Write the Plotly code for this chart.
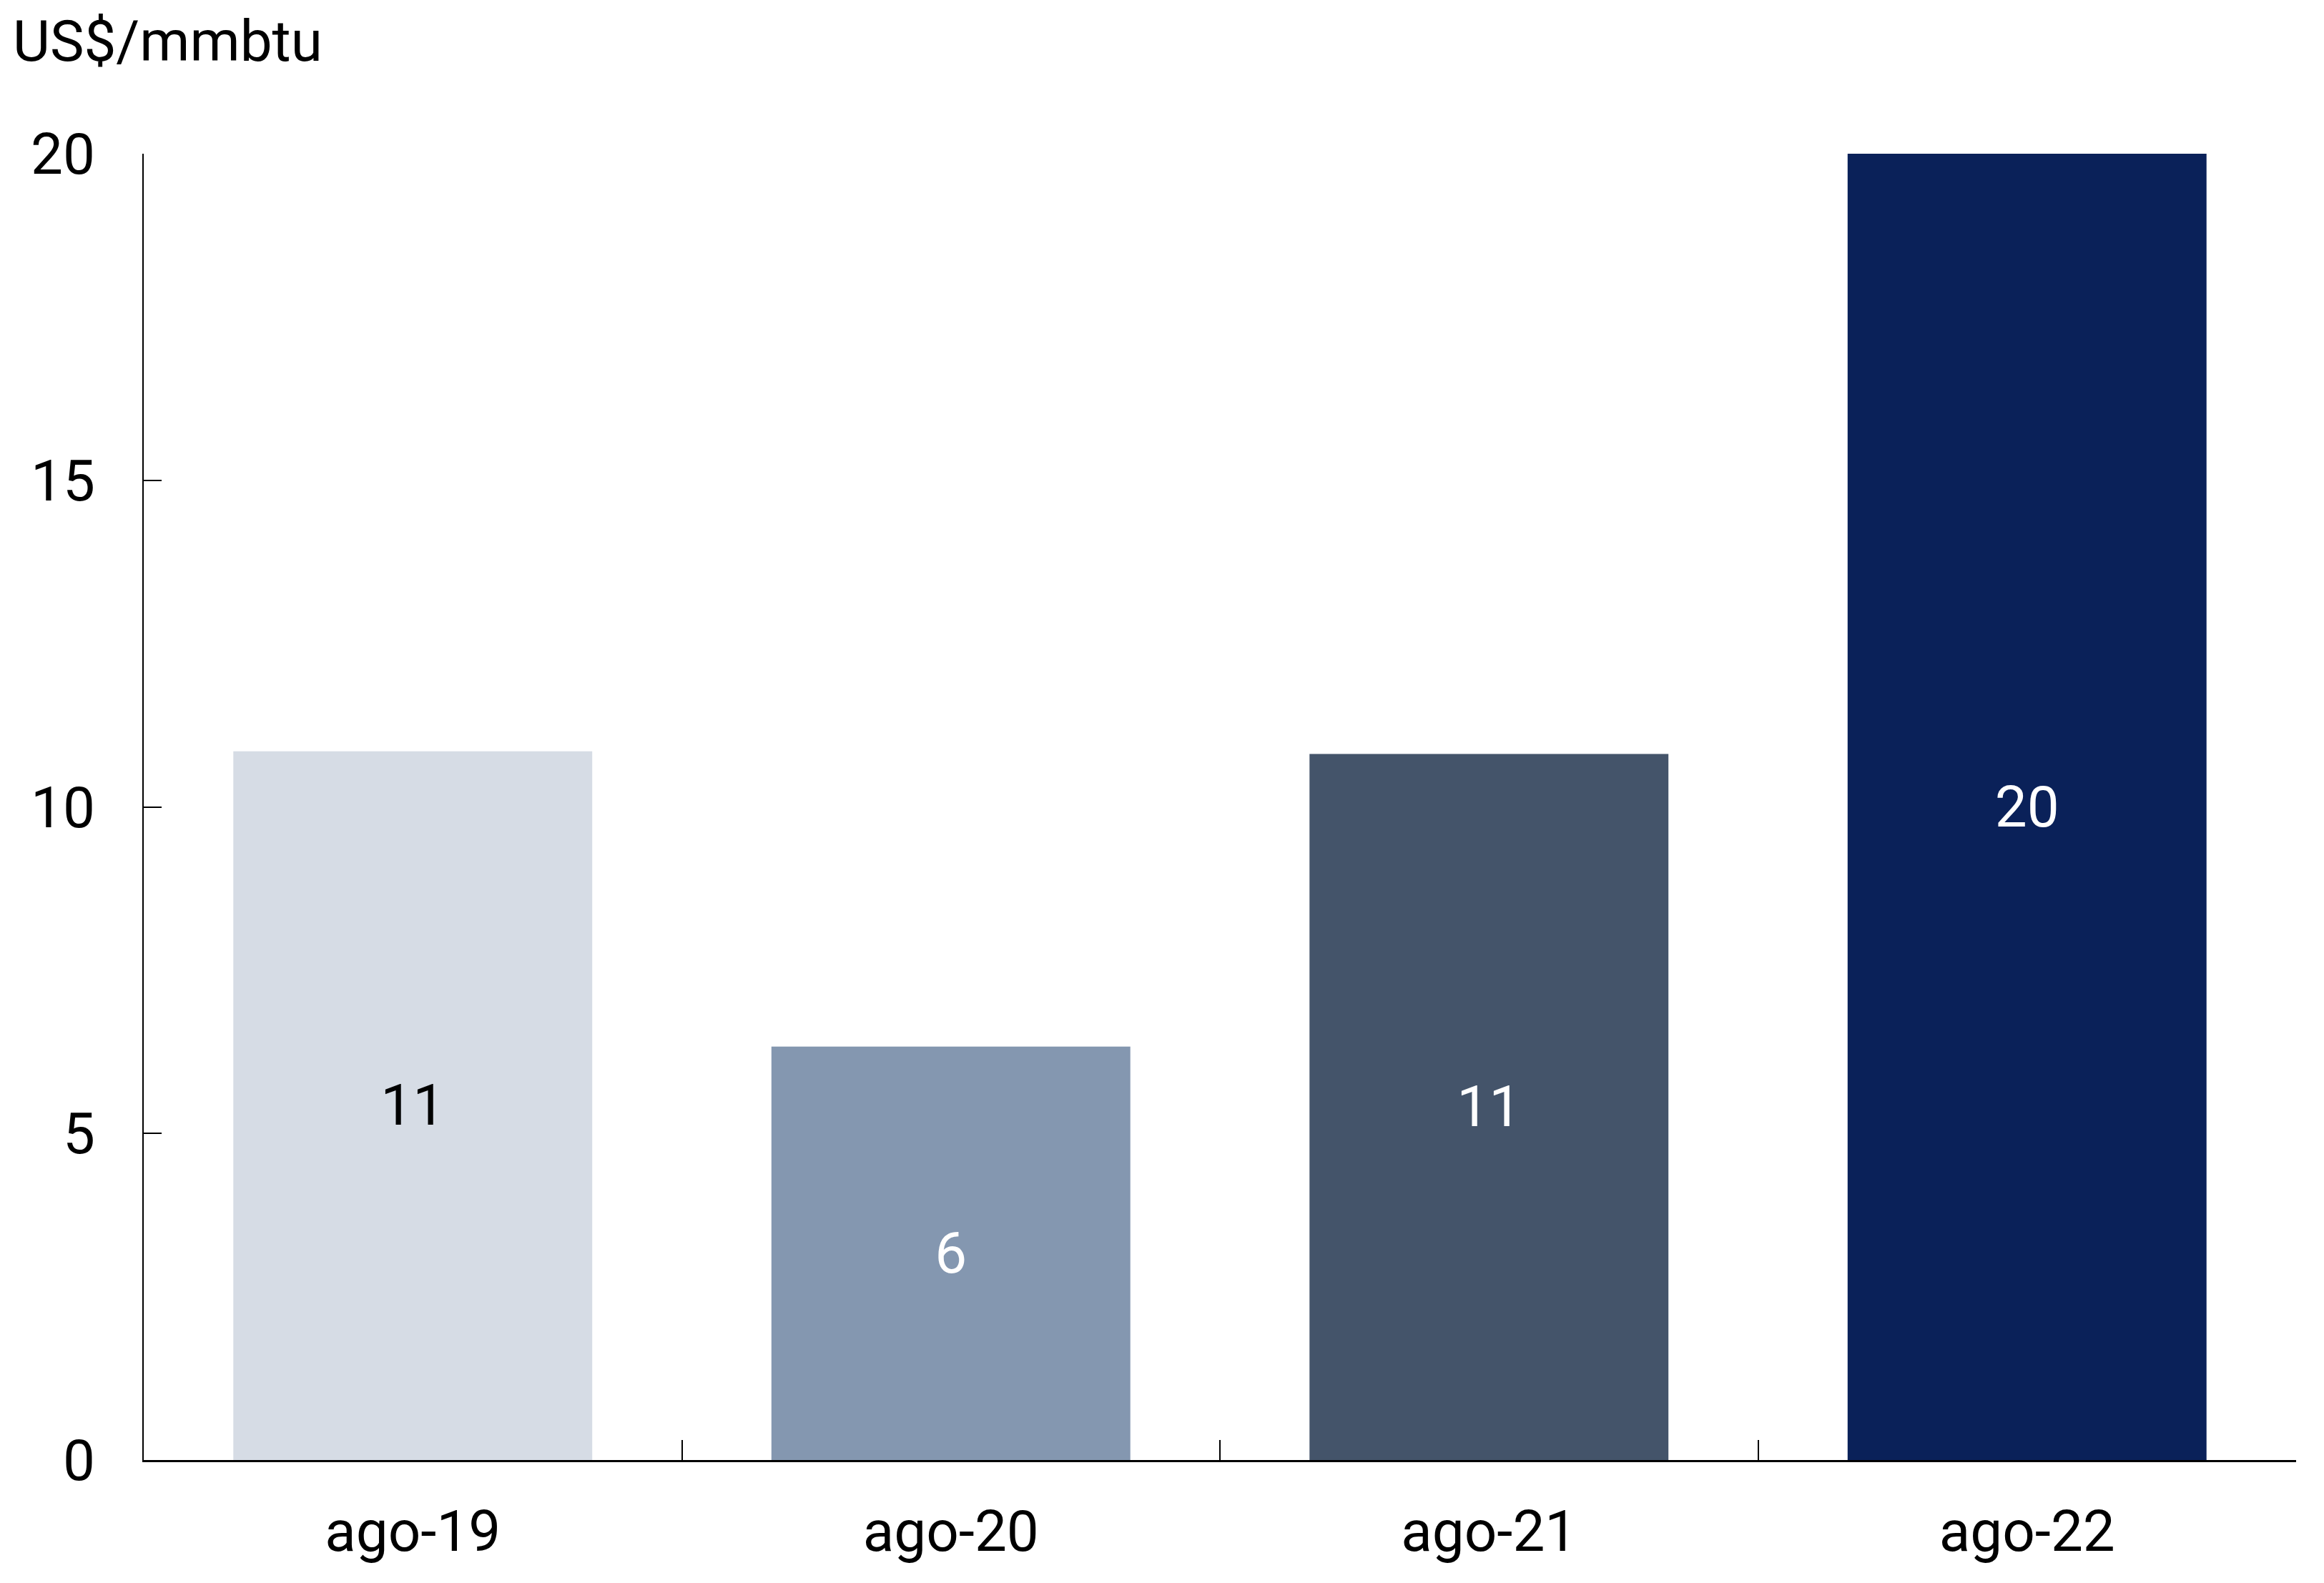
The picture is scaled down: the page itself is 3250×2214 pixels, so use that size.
import plotly.graph_objects as go

categories = ["ago-19", "ago-20", "ago-21", "ago-22"]
values = [10.85, 6.33, 10.81, 20.0]
bar_colors = ["#D6DCE5", "#8497B0", "#44546A", "#0A2159"]
label_colors = ["#000000", "#FFFFFF", "#FFFFFF", "#FFFFFF"]
y_ticks = [0, 5, 10, 15, 20]
unit_label = "US$/mmbtu"

W, H = 3250, 2214
L, R, T, B = 193, 47, 207, 180
FONT = "Roboto"
FS = 80

fig = go.Figure(go.Bar(
    x=categories,
    y=values,
    marker=dict(color=bar_colors, line=dict(width=0)),
    width=0.667,
    text=[f"{v:.0f}" for v in values],
    textposition="inside",
    insidetextanchor="middle",
    textangle=0,
    textfont=dict(family=FONT, size=FS, color=label_colors),
    cliponaxis=False,
))

fig.update_layout(
    width=W, height=H,
    margin=dict(l=L, r=R, t=T, b=B, pad=0),
    paper_bgcolor="white",
    plot_bgcolor="white",
    showlegend=False,
    font=dict(family=FONT, size=FS, color="#000000"),
    uniformtext=dict(mode=False),
    bargap=0.333,
)

fig.update_xaxes(
    showline=True, linecolor="#000000", linewidth=3,
    ticks="inside", ticklen=28, tickwidth=2, tickcolor="#000000",
    tickson="boundaries",
    showgrid=False, zeroline=False,
    tickfont=dict(family=FONT, size=FS, color="#000000"),
    ticklabelstandoff=28,
)

fig.update_yaxes(
    range=[0, 20],
    tickvals=y_ticks,
    ticktext=[str(t) for t in y_ticks],
    showline=True, linecolor="#000000", linewidth=2,
    ticks="inside", ticklen=25, tickwidth=2, tickcolor="#000000",
    showgrid=False, zeroline=False,
    tickfont=dict(family=FONT, size=FS, color="#000000"),
    ticklabelstandoff=50,
)

plot_w = W - L - R
plot_h = H - T - B
fig.add_annotation(
    text=unit_label,
    xref="paper", yref="paper",
    x=(8 - L) / plot_w, y=1 + (T - 50) / plot_h,
    xanchor="left", yanchor="middle",
    showarrow=False,
    font=dict(family=FONT, size=FS, color="#000000"),
)

fig.write_html("out.html")
